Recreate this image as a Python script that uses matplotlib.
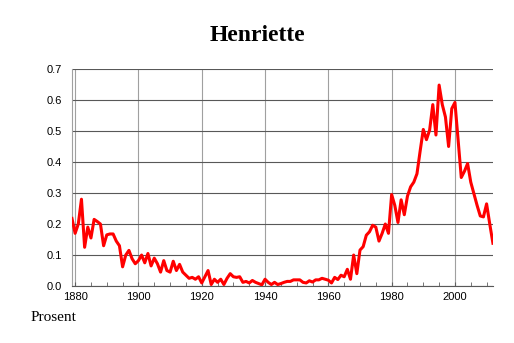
import matplotlib
matplotlib.use("Agg")
import matplotlib.pyplot as plt
from matplotlib.ticker import MultipleLocator, FormatStrFormatter

# Share of newborn girls named Henriette (per cent), one value per year
years = list(range(1879, 2013))
share = [
    0.218,                                                             # 1879
    0.17, 0.20, 0.28, 0.125, 0.19, 0.155, 0.215, 0.208, 0.20, 0.13,    # 1880s
    0.165, 0.168, 0.168, 0.145, 0.13, 0.062, 0.10, 0.115, 0.088, 0.072,
    0.082, 0.10, 0.075, 0.105, 0.065, 0.09, 0.072, 0.045, 0.082, 0.05,
    0.045, 0.08, 0.05, 0.07, 0.045, 0.035, 0.025, 0.028, 0.022, 0.03,
    0.01, 0.03, 0.05, 0.005, 0.022, 0.012, 0.022, 0.005, 0.025, 0.04,
    0.03, 0.028, 0.03, 0.012, 0.015, 0.01, 0.018, 0.012, 0.008, 0.004,
    0.022, 0.012, 0.005, 0.012, 0.005, 0.008, 0.012, 0.015, 0.015, 0.02,
    0.02, 0.02, 0.012, 0.01, 0.017, 0.013, 0.02, 0.02, 0.025, 0.022,
    0.019, 0.01, 0.028, 0.021, 0.035, 0.03, 0.054, 0.022, 0.10, 0.04,
    0.116, 0.127, 0.164, 0.175, 0.196, 0.19, 0.145, 0.17, 0.20, 0.17,
    0.295, 0.26, 0.205, 0.278, 0.23, 0.29, 0.32, 0.335, 0.362, 0.435,
    0.505, 0.472, 0.503, 0.585, 0.487, 0.648, 0.585, 0.545, 0.45, 0.572,
    0.592, 0.47, 0.35, 0.37, 0.395, 0.335, 0.298, 0.26, 0.226, 0.223,
    0.265, 0.2, 0.138,                                                 # 2010-2012
]
year_ticks = [1880, 1900, 1920, 1940, 1960, 1980, 2000]
value_ticks = [0.0, 0.1, 0.2, 0.3, 0.4, 0.5, 0.6, 0.7]

fig = plt.figure(figsize=(5.14, 3.43), dpi=100)
ax = fig.add_axes([0.140, 0.166, 0.819, 0.633])

ax.plot(years, share, color="#ff0000", linewidth=2.2, zorder=3)

ax.set_xlim(years[0], years[-1])
ax.set_ylim(0, 0.7)
ax.set_xticks(year_ticks)
ax.xaxis.set_minor_locator(MultipleLocator(5))
ax.set_yticks(value_ticks)
ax.yaxis.set_major_formatter(FormatStrFormatter("%.1f"))

# vertical grid lighter than horizontal grid
ax.grid(axis="x", color="#a0a0a0", linewidth=0.8)
ax.grid(axis="y", color="#585858", linewidth=0.8)
ax.set_axisbelow(True)

for side in ("top", "right"):
    ax.spines[side].set_visible(False)
ax.spines["left"].set_color("#a0a0a0")
ax.spines["left"].set_linewidth(0.8)
ax.spines["bottom"].set_color("#585858")
ax.spines["bottom"].set_linewidth(0.8)

ax.tick_params(axis="x", which="major", length=3, direction="in", color="#606060",
               labelsize=8, pad=4)
ax.tick_params(axis="x", which="minor", length=3, direction="in", color="#606060")
ax.tick_params(axis="y", length=0, labelsize=8, pad=7)
for lab in ax.get_xticklabels() + ax.get_yticklabels():
    lab.set_family("Liberation Sans")

fig.text(0.5, 0.897, "Henriette", ha="center", va="center",
         family="Liberation Serif", fontweight="bold", fontsize=17)
fig.text(0.060, 0.073, "Prosent", ha="left", va="center",
         family="Liberation Serif", fontsize=11)

fig.savefig("out.png", dpi=100)
